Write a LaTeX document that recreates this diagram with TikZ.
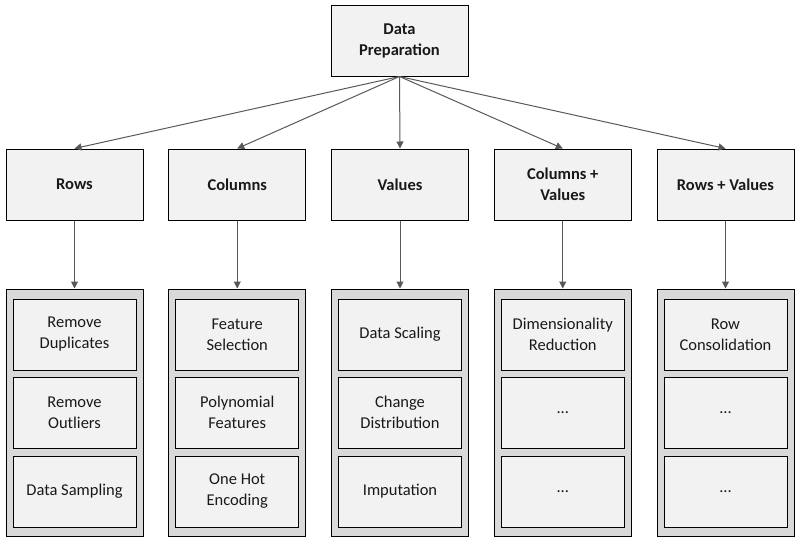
\documentclass[tikz,border=0pt]{standalone}
\usepackage{fontspec}
\setmainfont{Carlito}
\usepackage{tikz}
\usetikzlibrary{arrows.meta}
\definecolor{boxfill}{HTML}{F2F2F2}
\definecolor{groupfill}{HTML}{D9D9D9}
\definecolor{linkgray}{HTML}{595959}
\tikzset{
    every node/.style={draw, line width=1pt, align=center,
    	font=\fontsize{16.5}{21}\selectfont, text=black!90}
}
\tikzset{
    head/.style={fill=boxfill, minimum width=137pt, minimum height=71pt,
    	font=\fontsize{16.5}{21}\selectfont\bfseries},
    task/.style={fill=boxfill, minimum width=123pt, minimum height=71pt},
    group/.style={fill=groupfill, minimum width=137pt, minimum height=247pt}
}
\tikzset{
	every edge/.append style={draw=linkgray, line width=1pt,
		-{Triangle[length=7pt,width=7pt]}}
}

\begin{document}
\begin{tikzpicture}[x=1pt,y=-1pt]
	\useasboundingbox (0,0) rectangle (800,541);
	\node[head] (prep) at (399.5,40.5) {Data\\Preparation};
	
	\node[head] (rows) at (74.5,184.5) {Rows};
	\node[head] (cols) at (237.25,184.5) {Columns};
	\node[head] (vals) at (400,184.5) {Values};
	\node[head] (colsvals) at (562.75,184.5) {Columns +\\Values};
	\node[head] (rowsvals) at (725.5,184.5) {Rows + Values};
	
	% grey groups under each heading
	\node[group] (rowsgrp) at (74.5,412.5) {};
	\node[group] (colsgrp) at (237.25,412.5) {};
	\node[group] (valsgrp) at (400,412.5) {};
	\node[group] (colsvalsgrp) at (562.75,412.5) {};
	\node[group] (rowsvalsgrp) at (725.5,412.5) {};
	
	\node[task] (r1) at (74.5,334.5) {Remove\\Duplicates};
	\node[task] (r2) at (74.5,412.5) {Remove\\Outliers};
	\node[task] (r3) at (74.5,491.5) {Data Sampling};
	\node[task] (c1) at (237.25,334.5) {Feature\\Selection};
	\node[task] (c2) at (237.25,412.5) {Polynomial\\Features};
	\node[task] (c3) at (237.25,491.5) {One Hot\\Encoding};
	\node[task] (v1) at (400,334.5) {Data Scaling};
	\node[task] (v2) at (400,412.5) {Change\\Distribution};
	\node[task] (v3) at (400,491.5) {Imputation};
	\node[task] (cv1) at (562.75,334.5) {Dimensionality\\Reduction};
	\node[task] (cv2) at (562.75,412.5) {...};
	\node[task] (cv3) at (562.75,491.5) {...};
	\node[task] (rv1) at (725.5,334.5) {Row\\Consolidation};
	\node[task] (rv2) at (725.5,412.5) {...};
	\node[task] (rv3) at (725.5,491.5) {...};
	
	\draw (prep.south) edge (rows.north); \draw (prep.south) edge (cols.north);
	\draw (prep.south) edge (vals.north); \draw (prep.south) edge (colsvals.north);
	\draw (prep.south) edge (rowsvals.north);
	\draw (rows) edge (rowsgrp); \draw (cols) edge (colsgrp);
	\draw (vals) edge (valsgrp); \draw (colsvals) edge (colsvalsgrp);
	\draw (rowsvals) edge (rowsvalsgrp);
\end{tikzpicture}
\end{document}
